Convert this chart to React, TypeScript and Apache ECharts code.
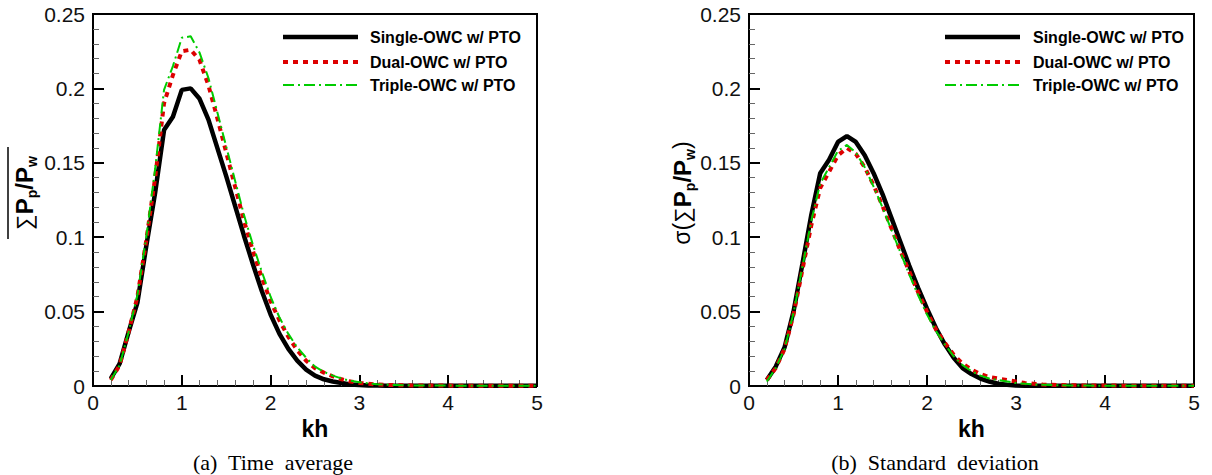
import React, { useEffect, useRef } from 'react';
import * as echarts from 'echarts';

// kh values (x)
const kh = [
  0.2, 0.3, 0.4, 0.5, 0.6, 0.7, 0.8, 0.9, 1.0, 1.1,
  1.2, 1.3, 1.4, 1.5, 1.6, 1.7, 1.8, 1.9, 2.0, 2.1,
  2.2, 2.3, 2.4, 2.5, 2.6, 2.7, 2.8, 2.9, 3.0, 3.1,
  3.2, 3.3, 3.4, 3.5, 3.6, 3.7, 3.8, 3.9, 4.0, 4.1,
  4.2, 4.3, 4.4, 4.5, 4.6, 4.7, 4.8, 4.9, 5.0,
];

// (a) Time average
const avgSingle = [
  0.005, 0.015, 0.036, 0.056, 0.094, 0.130, 0.172, 0.181, 0.199, 0.200,
  0.193, 0.179, 0.160, 0.141, 0.121, 0.101, 0.082, 0.064, 0.048, 0.035,
  0.025, 0.017, 0.011, 0.007, 0.0045, 0.003, 0.002, 0.001, 0.0006, 0.0004,
  0.0003, 0.0002, 0.0001, 0.0001, 0.0001, 0.0001, 0.0001, 0.0001, 0.0001, 0.0001,
  0.0001, 0.0001, 0.0001, 0.0001, 0.0001, 0.0001, 0.0001, 0.0001, 0.0001,
];
const avgDual = [
  0.004, 0.014, 0.036, 0.060, 0.098, 0.140, 0.190, 0.209, 0.225, 0.226,
  0.219, 0.202, 0.180, 0.157, 0.134, 0.111, 0.091, 0.073, 0.057, 0.044,
  0.033, 0.024, 0.017, 0.012, 0.009, 0.0065, 0.0045, 0.003, 0.002, 0.0015,
  0.001, 0.0008, 0.0006, 0.0005, 0.0004, 0.0004, 0.0003, 0.0003, 0.0003, 0.0002,
  0.0002, 0.0002, 0.0002, 0.0002, 0.0002, 0.0002, 0.0002, 0.0002, 0.0002,
];
const avgTriple = [
  0.004, 0.014, 0.036, 0.061, 0.100, 0.146, 0.199, 0.215, 0.234, 0.235,
  0.224, 0.207, 0.184, 0.161, 0.138, 0.115, 0.095, 0.077, 0.060, 0.046,
  0.035, 0.026, 0.019, 0.013, 0.0095, 0.007, 0.005, 0.0035, 0.0025, 0.0018,
  0.0012, 0.0009, 0.0007, 0.0005, 0.0004, 0.0004, 0.0003, 0.0003, 0.0003, 0.0002,
  0.0002, 0.0002, 0.0002, 0.0002, 0.0002, 0.0002, 0.0002, 0.0002, 0.0002,
];

// (b) Standard deviation
const sdSingle = [
  0.004, 0.013, 0.026, 0.050, 0.082, 0.115, 0.143, 0.152, 0.164, 0.168,
  0.164, 0.155, 0.143, 0.129, 0.113, 0.097, 0.081, 0.066, 0.052, 0.039,
  0.028, 0.019, 0.012, 0.008, 0.005, 0.003, 0.0015, 0.0008, 0.0003, 0.0002,
  0.0001, 0.0001, 0.0001, 0.0001, 0.0001, 0.0001, 0.0001, 0.0001, 0.0001, 0.0001,
  0.0001, 0.0001, 0.0001, 0.0001, 0.0001, 0.0001, 0.0001, 0.0001, 0.0001,
];
const sdDual = [
  0.004, 0.012, 0.025, 0.048, 0.078, 0.108, 0.133, 0.144, 0.155, 0.160,
  0.156, 0.147, 0.135, 0.121, 0.106, 0.091, 0.077, 0.063, 0.050, 0.038,
  0.029, 0.021, 0.015, 0.011, 0.008, 0.006, 0.005, 0.004, 0.003, 0.002,
  0.0015, 0.001, 0.0008, 0.0006, 0.0005, 0.0004, 0.0004, 0.0003, 0.0003, 0.0003,
  0.0002, 0.0002, 0.0002, 0.0002, 0.0002, 0.0002, 0.0002, 0.0002, 0.0002,
];
const sdTriple = [
  0.003, 0.012, 0.025, 0.049, 0.080, 0.111, 0.136, 0.147, 0.158, 0.162,
  0.157, 0.147, 0.134, 0.120, 0.105, 0.090, 0.075, 0.061, 0.048, 0.037,
  0.028, 0.020, 0.014, 0.010, 0.007, 0.005, 0.004, 0.003, 0.002, 0.0015,
  0.001, 0.0008, 0.0006, 0.0005, 0.0004, 0.0003, 0.0003, 0.0002, 0.0002, 0.0002,
  0.0002, 0.0002, 0.0002, 0.0002, 0.0002, 0.0002, 0.0002, 0.0002, 0.0002,
];

const seriesNames = ['Single-OWC w/ PTO', 'Dual-OWC w/ PTO', 'Triple-OWC w/ PTO'];
const captions = ['(a)\u00a0 Time\u00a0 average', '(b)\u00a0 Standard\u00a0 deviation'];
const xName = 'kh';

const SANS = "'Liberation Sans', Arial, sans-serif";
const SERIF = "'Liberation Serif', 'Times New Roman', serif";

const styles = [
  { color: '#000000', width: 4.5, type: 'solid' as any },
  { color: '#dd0000', width: 4, type: [5, 5] as any },
  { color: '#00cc00', width: 2, type: [11, 4, 2, 4] as any },
];

function pairs(ys: number[]) {
  return kh.map((k, i) => [k, ys[i]]);
}

function makeXAxis(gridIndex: number) {
  return {
    type: 'value',
    gridIndex,
    min: 0,
    max: 5,
    interval: 1,
    axisLine: { show: true, onZero: false, lineStyle: { color: '#000', width: 2 } },
    axisTick: { show: true, inside: true, length: 11, lineStyle: { color: '#000', width: 2 } },
    minorTick: { show: true, splitNumber: 5, length: 6, lineStyle: { color: '#666', width: 1 } },
    splitLine: { show: false },
    minorSplitLine: { show: false },
    axisLabel: { fontFamily: SANS, fontSize: 21, color: '#111', margin: 6 },
    name: xName,
    nameLocation: 'middle',
    nameGap: 30,
    nameTextStyle: { fontFamily: SANS, fontWeight: 'bold', fontSize: 23, color: '#000' },
  };
}

function makeYAxis(gridIndex: number) {
  return {
    type: 'value',
    gridIndex,
    min: 0,
    max: 0.25,
    interval: 0.05,
    axisLine: { show: true, onZero: false, lineStyle: { color: '#000', width: 2 } },
    axisTick: { show: true, inside: true, length: 11, lineStyle: { color: '#000', width: 2 } },
    minorTick: { show: true, splitNumber: 5, length: 6, lineStyle: { color: '#666', width: 1 } },
    splitLine: { show: false },
    minorSplitLine: { show: false },
    axisLabel: { fontFamily: SANS, fontSize: 21, color: '#111', margin: 8 },
  };
}

function yTitle(cx: number, cy: number, sigma: boolean) {
  const rich: any = {
    b: { fontFamily: SANS, fontWeight: 'bold', fontSize: 24, lineHeight: 30, verticalAlign: 'middle', fill: '#000' },
    s: { fontFamily: SANS, fontSize: 22, lineHeight: 30, verticalAlign: 'middle', fill: '#000' },
    r: { fontFamily: SANS, fontSize: 23, lineHeight: 30, verticalAlign: 'middle', fill: '#000' },
    sub: { fontFamily: SANS, fontWeight: 'bold', fontSize: 14, lineHeight: 14, verticalAlign: 'bottom', fill: '#000' },
  };
  const body = '{s|∑}{b|P}{sub|p}{b|/P}{sub|w}';
  const text = sigma ? '{r|σ(}' + body + '{r|)}' : body;
  return {
    type: 'text',
    x: cx,
    y: cy,
    rotation: Math.PI / 2,
    style: { text, rich, align: 'center', verticalAlign: 'middle' },
  };
}

function legend(x0: number, textX: number) {
  const ys = [37, 62, 85];
  const els: any[] = [];
  seriesNames.forEach((n, i) => {
    els.push({
      type: 'line',
      shape: { x1: x0, y1: ys[i], x2: x0 + 75, y2: ys[i] },
      style: { stroke: styles[i].color, lineWidth: styles[i].width, lineDash: i === 0 ? null : styles[i].type },
    });
    els.push({
      type: 'text',
      x: textX,
      y: ys[i],
      style: { text: n, fontFamily: SANS, fontWeight: 'bold', fontSize: 16, fill: '#000', align: 'left', verticalAlign: 'middle' },
    });
  });
  return els;
}

export default function App() {
  const ref = useRef<HTMLDivElement>(null);
  useEffect(() => {
    if (!ref.current) return;
    const chart = echarts.init(ref.current, null, { renderer: 'svg' });
    const groups = [
      [avgSingle, avgDual, avgTriple],
      [sdSingle, sdDual, sdTriple],
    ];
    const series: any[] = [];
    groups.forEach((g, gi) => {
      g.forEach((ys, si) => {
        series.push({
          type: 'line',
          name: seriesNames[si],
          xAxisIndex: gi,
          yAxisIndex: gi,
          data: pairs(ys),
          showSymbol: false,
          symbol: 'none',
          smooth: false,
          lineStyle: { color: styles[si].color, width: styles[si].width, type: styles[si].type },
          z: 2 + si,
        });
      });
    });
    chart.setOption({
      animation: false,
      backgroundColor: '#fff',
      grid: [
        { left: 93, top: 14, width: 444, height: 372, show: true, borderColor: '#000', borderWidth: 2, containLabel: false },
        { left: 749, top: 14, width: 445, height: 372, show: true, borderColor: '#000', borderWidth: 2, containLabel: false },
      ],
      xAxis: [makeXAxis(0), makeXAxis(1)],
      yAxis: [makeYAxis(0), makeYAxis(1)],
      series,
      graphic: [
        ...legend(283, 370),
        ...legend(945, 1033),
        yTitle(24, 193, false),
        {
          type: 'line',
          shape: { x1: 8, y1: 147, x2: 8, y2: 239 },
          style: { stroke: '#000', lineWidth: 1.5 },
        },
        yTitle(682, 193, true),
        {
          type: 'text', x: 273, y: 462,
          style: { text: captions[0], fontFamily: SERIF, fontSize: 22, fill: '#000', align: 'center', verticalAlign: 'middle' },
        },
        {
          type: 'text', x: 935, y: 462,
          style: { text: captions[1], fontFamily: SERIF, fontSize: 22, fill: '#000', align: 'center', verticalAlign: 'middle' },
        },
      ],
    });
    return () => chart.dispose();
  }, []);
  return <div ref={ref} style={{ position: 'absolute', left: 0, top: 0, width: 1212, height: 475 }} />;
}
